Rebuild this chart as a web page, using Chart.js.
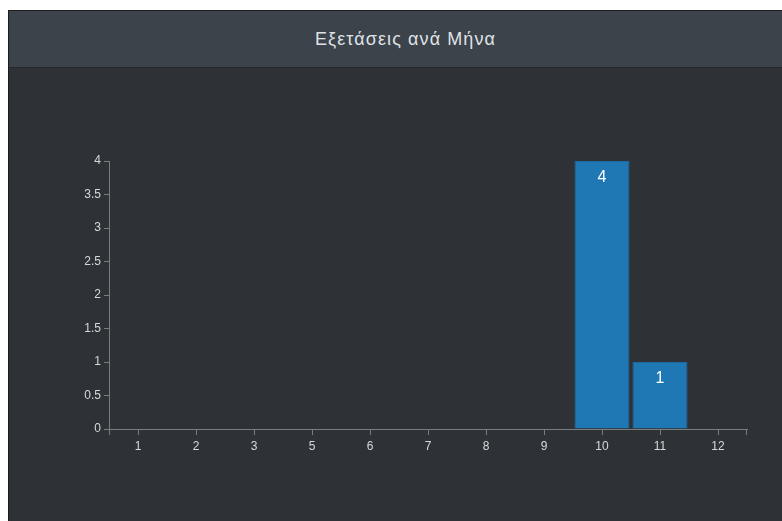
<!DOCTYPE html>
<html>
<head>
<meta charset="utf-8">
<script src="https://cdn.jsdelivr.net/npm/chart.js@4"></script>
<style>
  html, body { margin: 0; padding: 0; background: #ffffff; }
  #panel { position: absolute; left: 8px; top: 10px; width: 776px; height: 513px; background: #2e3236; border-left: 1px solid #1b1d20; border-top: 1px solid #1b1d20; box-sizing: border-box; }
  #header { position: absolute; left: 0; top: 0; width: 100%; height: 57px; background: #3d434b; border-bottom: 1px solid #25282c; box-sizing: border-box; color: #dfe2e6; font-family: "Liberation Sans", Arial, sans-serif; font-size: 18px; letter-spacing: 1.1px; text-align: center; line-height: 57px; padding-left: 18px; }
  #wrap { position: absolute; left: 0; top: 57px; width: 775px; height: 455px; }
</style>
</head>
<body>
<div id="panel">
  <div id="header">Εξετάσεις ανά Μήνα</div>
  <div id="wrap"><canvas id="c" width="775" height="455"></canvas></div>
</div>
<script>
const months = ["1", "2", "3", "5", "6", "7", "8", "9", "10", "11", "12"];
const exams = [0, 0, 0, 0, 0, 0, 0, 0, 4, 1, 0];
const yTicks = [0, 0.5, 1, 1.5, 2, 2.5, 3, 3.5, 4];

const axisColor = "#7a7d80";
const labelColor = "#d6d9dc";

const valueLabels = {
  id: "valueLabels",
  afterDatasetsDraw(chart) {
    const ctx = chart.ctx;
    const meta = chart.getDatasetMeta(0);
    ctx.save();
    ctx.fillStyle = "#ffffff";
    ctx.font = "16px 'Liberation Sans', Arial, sans-serif";
    ctx.textAlign = "center";
    ctx.textBaseline = "middle";
    meta.data.forEach((bar, i) => {
      const v = exams[i];
      if (v > 0) ctx.fillText(String(v), bar.x, bar.y + 17);
    });
    ctx.restore();
  }
};

const outerTicks = {
  id: "outerTicks",
  afterDraw(chart) {
    const ctx = chart.ctx;
    const a = chart.chartArea;
    ctx.save();
    ctx.strokeStyle = axisColor;
    ctx.lineWidth = 1;
    ctx.beginPath();
    ctx.moveTo(Math.round(a.left) + 0.5, a.bottom);
    ctx.lineTo(Math.round(a.left) + 0.5, a.bottom + 6);
    ctx.moveTo(Math.round(a.right) - 0.5, a.bottom);
    ctx.lineTo(Math.round(a.right) - 0.5, a.bottom + 6);
    ctx.stroke();
    ctx.restore();
  }
};

const tickFont = { family: "'Liberation Sans', Arial, sans-serif", size: 12 };

new Chart(document.getElementById("c"), {
  type: "bar",
  data: {
    labels: months,
    datasets: [{
      data: exams,
      backgroundColor: "#1f77b4",
      borderColor: "#1c6aa2",
      borderWidth: 1,
      barPercentage: 0.95,
      categoryPercentage: 1.0
    }]
  },
  options: {
    responsive: false,
    animation: false,
    layout: { padding: { left: 0, right: 37, top: 93, bottom: 0 } },
    plugins: { legend: { display: false }, tooltip: { enabled: false }, title: { display: false } },
    scales: {
      x: {
        offset: true,
        grid: { offset: false, drawOnChartArea: false, drawTicks: true, tickLength: 6, color: axisColor },
        border: { color: axisColor },
        ticks: { color: labelColor, font: tickFont, padding: 4, maxRotation: 0 },
        afterFit(s) { s.height = 94; }
      },
      y: {
        min: 0, max: 4,
        afterBuildTicks(s) { s.ticks = yTicks.map(v => ({ value: v })); },
        grid: { drawOnChartArea: false, drawTicks: true, tickLength: 5, color: axisColor },
        border: { color: axisColor },
        ticks: { color: labelColor, font: tickFont, padding: 3, callback: v => String(v) },
        afterFit(s) { s.width = 100; }
      }
    }
  },
  plugins: [valueLabels, outerTicks]
});
</script>
</body>
</html>
